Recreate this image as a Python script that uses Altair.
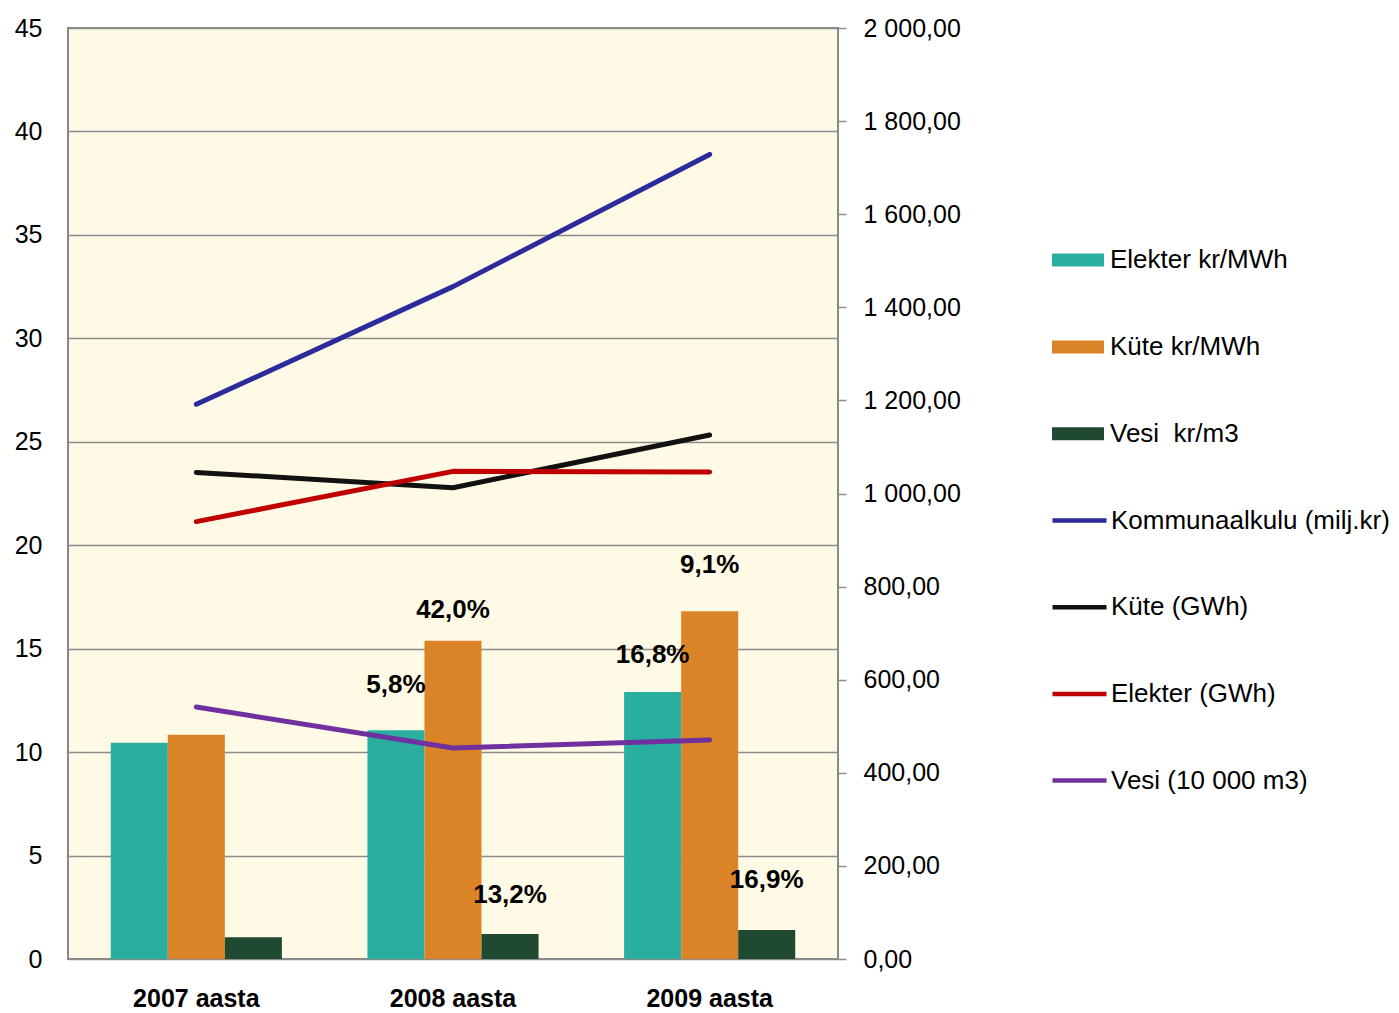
import altair as alt
import pandas as pd

# ---- data ----
years = ["2007 aasta", "2008 aasta", "2009 aasta"]

bar_series = ["Elekter kr/MWh", "Küte kr/MWh", "Vesi\u00a0 kr/m3"]
bar_colors = ["#2AAE9F", "#DB8427", "#1F4A31"]
elekter_price = [464.4, 491.3, 573.6]
kute_price = [481.5, 683.8, 746.9]
vesi_price = [46.6, 53.7, 62.3]

line_series = ["Kommunaalkulu (milj.kr)", "Küte (GWh)", "Elekter (GWh)", "Vesi (10 000 m3)"]
line_colors = ["#2B2B9B", "#111111", "#C00000", "#7030A0"]
kommunaalkulu = [26.81, 32.50, 38.89]
kute_gwh = [23.52, 22.78, 25.33]
elekter_gwh = [21.14, 23.57, 23.54]
vesi_volume = [12.18, 10.20, 10.59]

label_texts = ["5,8%", "42,0%", "13,2%", "16,8%", "9,1%", "16,9%"]
label_years = ["2008 aasta", "2008 aasta", "2008 aasta", "2009 aasta", "2009 aasta", "2009 aasta"]
label_series = bar_series + bar_series
label_heights = [588.6, 749.7, 137.5, 653.0, 846.4, 169.7]

right_ticks = list(range(0, 2001, 200))
left_ticks = list(range(0, 46, 5))

# ---- tables ----
bar_rows = []
for s, vals in zip(bar_series, [elekter_price, kute_price, vesi_price]):
    for y, v in zip(years, vals):
        bar_rows.append({"year": y, "series": s, "value": v})
bar_df = pd.DataFrame(bar_rows)

line_rows = []
for s, vals in zip(line_series, [kommunaalkulu, kute_gwh, elekter_gwh, vesi_volume]):
    for y, v in zip(years, vals):
        line_rows.append({"year": y, "series": s, "value": v})
line_df = pd.DataFrame(line_rows)

label_df = pd.DataFrame({"year": label_years, "series": label_series,
                         "h": label_heights, "label": label_texts})

FONT = "Liberation Sans"
FS = 25
LFS = 26
GRID = "#8C8C8C"

x_enc = alt.X("year:N", sort=years,
              scale=alt.Scale(paddingInner=1 / 3, paddingOuter=1 / 6),
              axis=alt.Axis(title=None, labelAngle=0, labelFontWeight="bold",
                            labelFontSize=FS, ticks=False, tickSize=0, domain=False,
                            labelPadding=27, labelColor="black", labelFont=FONT))
xoff = alt.XOffset("series:N", sort=bar_series,
                   scale=alt.Scale(paddingInner=0, paddingOuter=0))

bars = alt.Chart(bar_df).mark_bar().encode(
    x=x_enc,
    xOffset=xoff,
    y=alt.Y("value:Q",
            scale=alt.Scale(domain=[0, 2000], nice=False),
            axis=alt.Axis(orient="right", values=right_ticks, title=None, grid=False,
                          tickSize=8, tickColor=GRID, tickWidth=1.5, domain=False,
                          labelPadding=17, labelFontSize=FS, labelFont=FONT,
                          labelColor="black",
                          labelExpr="replace(replace(format(datum.value, ',.2f'), ',', ' '), '.', ',')")),
    color=alt.Color("series:N",
                    scale=alt.Scale(domain=bar_series, range=bar_colors),
                    legend=alt.Legend(orient="none", legendX=984, legendY=206, title=None,
                                      symbolType="M-1,-0.25H1V0.25H-1Z", symbolSize=2704,
                                      symbolStrokeWidth=0, symbolOpacity=1,
                                      labelFontSize=LFS, labelFont=FONT, labelColor="black",
                                      labelLimit=400, rowPadding=47.9, labelOffset=6,
                                      padding=0)),
)

labels = alt.Chart(label_df).mark_text(fontWeight="bold", fontSize=26, font=FONT,
                                       color="black", baseline="middle", align="center").encode(
    x=alt.X("year:N", sort=years),
    xOffset=xoff,
    y=alt.Y("h:Q", scale=alt.Scale(domain=[0, 2000], nice=False), axis=None),
    text="label:N",
)

lines = alt.Chart(line_df).mark_line(strokeWidth=5, strokeCap="round", strokeJoin="round").encode(
    x=alt.X("year:N", sort=years),
    y=alt.Y("value:Q",
            scale=alt.Scale(domain=[0, 45], nice=False),
            axis=alt.Axis(orient="left", values=left_ticks, title=None, grid=True,
                          gridColor=GRID, gridWidth=1.5, ticks=False, tickSize=0,
                          domain=False, labelPadding=26, labelFontSize=FS,
                          labelFont=FONT, labelColor="black")),
    stroke=alt.Stroke("series:N",
                      scale=alt.Scale(domain=line_series, range=line_colors),
                      legend=alt.Legend(orient="none", legendX=982, legendY=463, title=None,
                                        symbolType="stroke", symbolSize=2916,
                                        symbolStrokeWidth=4.5,
                                        labelFontSize=LFS, labelFont=FONT, labelColor="black",
                                        labelLimit=400, rowPadding=43.7, labelOffset=2,
                                        padding=0)),
)

chart = alt.layer(bars, labels, lines).resolve_scale(y="independent").properties(
    width=770, height=931,
    autosize=alt.AutoSizeParams(type="none"),
    padding={"left": 60, "top": 20, "right": 553, "bottom": 56},
).configure(font=FONT).configure_view(
    fill="#FFFAE6", stroke="#888888", strokeWidth=2
)

chart.save("out.html", embed_options={"renderer": "svg", "actions": False})
